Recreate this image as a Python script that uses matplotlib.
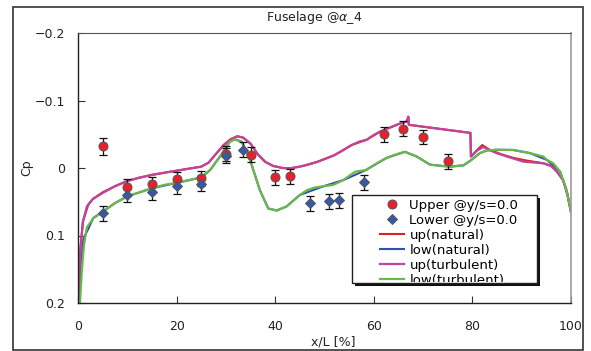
import numpy as np
import matplotlib
matplotlib.use("Agg")
import matplotlib.pyplot as plt
from matplotlib.patches import Rectangle

plt.rcParams["font.family"] = ["DejaVu Sans"]

# experimental data (x/L %, Cp)
x_up = [5, 10, 15, 20, 25, 30, 35, 40, 43, 62, 66, 70, 75]
cp_up = [-0.032, 0.028, 0.024, 0.017, 0.015, -0.021, -0.020, 0.014, 0.012, -0.050, -0.058, -0.046, -0.010]
err_up = [0.012, 0.011, 0.011, 0.011, 0.011, 0.011, 0.011, 0.011, 0.011, 0.011, 0.011, 0.011, 0.011]

x_low = [5, 10, 15, 20, 25, 30, 33.5, 47, 51, 53, 58]
cp_low = [0.067, 0.040, 0.035, 0.027, 0.023, -0.018, -0.027, 0.052, 0.049, 0.048, 0.021]
err_low = [0.011, 0.011, 0.012, 0.011, 0.011, 0.011, 0.011, 0.011, 0.011, 0.011, 0.011]

# computed curves
x_ut = [0, 0.5, 1.0, 1.8, 3, 5, 7.5, 10, 12.5, 15, 17.5, 20, 22.5, 25, 26.5, 28, 29.5, 31, 32.3,
        33.5, 35, 36.5, 38, 39.6, 41.5, 43, 45, 46.5, 48.5, 50.5, 52, 53.5, 55.5, 57, 58.6, 60,
        61.3, 63, 65, 66.7, 67, 67.1, 79.6, 79.7, 81, 82.2, 84.9, 87, 90.3, 92.5, 94.4, 96, 97.1,
        98.4, 99.3, 100]
cp_ut = [0.2, 0.12, 0.08, 0.057, 0.046, 0.037, 0.027, 0.0195, 0.014, 0.0105, 0.007, 0.004, 0.001,
         -0.002, -0.008, -0.021, -0.033, -0.042, -0.047, -0.045, -0.036, -0.020, -0.009, -0.003,
         0.0, 0.0005, -0.002, -0.0045, -0.009, -0.0145, -0.019, -0.025, -0.034, -0.039, -0.042,
         -0.049, -0.054, -0.059, -0.065, -0.069, -0.076, -0.064, -0.052, -0.017, -0.026, -0.031,
         -0.022, -0.017, -0.0095, -0.008, -0.007, -0.003, 0.005, 0.018, 0.040, 0.065]

x_un = [0, 0.5, 1.0, 2.1, 3, 5, 7.5, 10, 15, 20, 25, 26.5, 28, 29.5, 31, 32.3, 33.5, 35, 36.5, 38,
        39.6, 41.5, 43, 45, 48.5, 52, 55.5, 58.6, 61.3, 65, 66.7, 67, 67.1, 79.6, 79.7, 81, 82.0,
        83.5, 86, 88.3, 91, 94.4, 96, 97.1, 98.4, 99.3, 100]
cp_un = [0.2, 0.118, 0.079, 0.054, 0.046, 0.036, 0.027, 0.019, 0.010, 0.004, -0.002, -0.008, -0.021,
         -0.034, -0.043, -0.047, -0.045, -0.036, -0.020, -0.009, -0.003, 0.0, 0.0005, -0.002,
         -0.009, -0.019, -0.034, -0.042, -0.054, -0.065, -0.069, -0.076, -0.064, -0.052, -0.017,
         -0.027, -0.034, -0.027, -0.020, -0.015, -0.011, -0.007, -0.003, 0.005, 0.018, 0.040, 0.065]

x_lt = [0.4, 0.8, 1.2, 1.8, 3.1, 5, 7.5, 10, 12.5, 15, 17.5, 20, 22.5, 25, 26.8, 28.8, 30.8, 31.8,
        33.2, 34.9, 36.9, 38.6, 40.3, 42.3, 45, 46.4, 48, 49.8, 51.8, 53.8, 56.2, 58.4, 60.6, 62.6,
        64, 66.3, 68.7, 71.4, 73.5, 75.5, 78.2, 79.8, 81.5, 82.9, 85, 88.3, 90.3, 91.7, 94.4, 95.1,
        96.4, 97.8, 99.1, 100]
cp_lt = [0.2, 0.15, 0.115, 0.088, 0.0745, 0.065, 0.052, 0.042, 0.036, 0.030, 0.025, 0.022, 0.018,
         0.014, 0.003, -0.017, -0.039, -0.0425, -0.039, -0.012, 0.033, 0.060, 0.063, 0.057, 0.040,
         0.033, 0.029, 0.027, 0.025, 0.018, 0.0055, 0.003, -0.007, -0.015, -0.019, -0.024, -0.017,
         -0.005, -0.003, -0.002, -0.004, -0.012, -0.022, -0.026, -0.027, -0.0267, -0.024, -0.022,
         -0.017, -0.012, -0.007, 0.0055, 0.033, 0.065]

x_ln = [0.2, 0.6, 1.0, 1.4, 2.1, 3.1, 5, 7.5, 10, 15, 20, 25, 26.8, 28.8, 30.8, 31.8, 33.2, 34.9,
        36.9, 38.6, 40.3, 42.3, 45, 49.8, 53.8, 58.4, 62.6, 66.3, 68.7, 71.4, 75.5, 78.2, 79.8,
        81.5, 82.9, 85, 88.3, 91.7, 95.1, 97.8, 99.1, 100]
cp_ln = [0.2, 0.14, 0.11, 0.1, 0.09, 0.074, 0.065, 0.052, 0.042, 0.030, 0.022, 0.014, 0.003,
         -0.017, -0.039, -0.0425, -0.039, -0.012, 0.033, 0.060, 0.063, 0.057, 0.040, 0.027, 0.018,
         0.003, -0.015, -0.024, -0.017, -0.005, -0.002, -0.004, -0.012, -0.022, -0.026, -0.027,
         -0.0267, -0.022, -0.012, 0.0055, 0.033, 0.065]

yticks = [-0.2, -0.1, 0, 0.1, 0.2]
ytick_labels = ["\u22120.2", "\u22120.1", "0", "0.1", "0.2"]
xticks = [0, 20, 40, 60, 80, 100]

fig = plt.figure(figsize=(5.91, 3.51), dpi=100)
ax = fig.add_axes([78 / 591, 1 - 303 / 351, 493 / 591, 270 / 351])

# outer frame
fig.patches.append(Rectangle((13 / 591, 1 / 351), 570 / 591, 343 / 351, transform=fig.transFigure,
                             fill=False, edgecolor="#333333", linewidth=1.2))
fig.text(314 / 591, 1 - 18 / 351, r"Fuselage @$\alpha$_4", ha="center", va="center", fontsize=9, color="#222222")

l1, = ax.plot(x_un, cp_un, color="#e02020", lw=1.5, label="up(natural)")
l2, = ax.plot(x_ln, cp_ln, color="#3050b0", lw=1.5, label="low(natural)")
l3, = ax.plot(x_ut, cp_ut, color="#c0449a", lw=1.6, label="up(turbulent)")
l4, = ax.plot(x_lt, cp_lt, color="#6ab84a", lw=1.6, label="low(turbulent)")

ax.errorbar(x_up, cp_up, yerr=err_up, fmt="none", ecolor="#111111", elinewidth=0.9, capsize=2.8, capthick=0.9)
ax.errorbar(x_low, cp_low, yerr=err_low, fmt="none", ecolor="#111111", elinewidth=0.9, capsize=2.8, capthick=0.9)
p1, = ax.plot(x_up, cp_up, "o", ms=6.5, mfc="#e8202a", mec="#555555", mew=0.7, label="Upper @y/s=0.0")
p2, = ax.plot(x_low, cp_low, "D", ms=5.2, mfc="#3558a8", mec="#555555", mew=0.7, label="Lower @y/s=0.0")

ax.set_xlim(0, 100)
ax.set_ylim(0.2, -0.2)
ax.set_yticks(yticks)
ax.set_yticklabels(ytick_labels)
ax.set_xticks(xticks)
ax.tick_params(direction="in", length=5, width=0.8, labelsize=9, labelcolor="#222222", color="#333333")
ax.tick_params(axis="y", pad=9)
ax.tick_params(axis="x", pad=12)
for s in ["left", "bottom"]:
    ax.spines[s].set_color("#222222")
    ax.spines[s].set_linewidth(1.0)
ax.spines["top"].set_color("#555555")
ax.spines["right"].set_color("#999999")
ax.spines["right"].set_linewidth(1.2)

ax.set_ylabel("Cp", fontsize=9, color="#222222")
ax.yaxis.set_label_coords(-0.091, 0.5)
ax.set_xlabel("x/L [%]", fontsize=9, color="#222222")
ax.xaxis.set_label_coords(0.517, -0.122)

# legend box, clipped like the original
bx0, by0, bw, bh = 0.556, 0.074, 0.375, 0.326
ax.add_patch(Rectangle((bx0 + 0.006, by0 - 0.011), bw, bh, transform=ax.transAxes,
                       facecolor="#111111", edgecolor="none", zorder=9))
box = Rectangle((bx0, by0), bw, bh, transform=ax.transAxes, facecolor="white",
                edgecolor="#222222", linewidth=1.0, zorder=10)
ax.add_patch(box)
leg = ax.legend([p1, p2, l1, l2, l3, l4],
                ["Upper @y/s=0.0", "Lower @y/s=0.0", "up(natural)", "low(natural)", "up(turbulent)", "low(turbulent)"],
                loc="upper left", bbox_to_anchor=(0.6, 0.41), frameon=False, fontsize=9.5,
                handlelength=1.8, handletextpad=0.4, labelspacing=0.15, borderpad=0.0)
leg.set_zorder(11)
clip = Rectangle((bx0, by0 + 0.004), bw, bh - 0.008, transform=ax.transAxes)
for a in leg.findobj():
    if a is not leg:
        a.set_clip_path(clip)
        a.set_clip_on(True)

fig.savefig("out.png", dpi=100)
